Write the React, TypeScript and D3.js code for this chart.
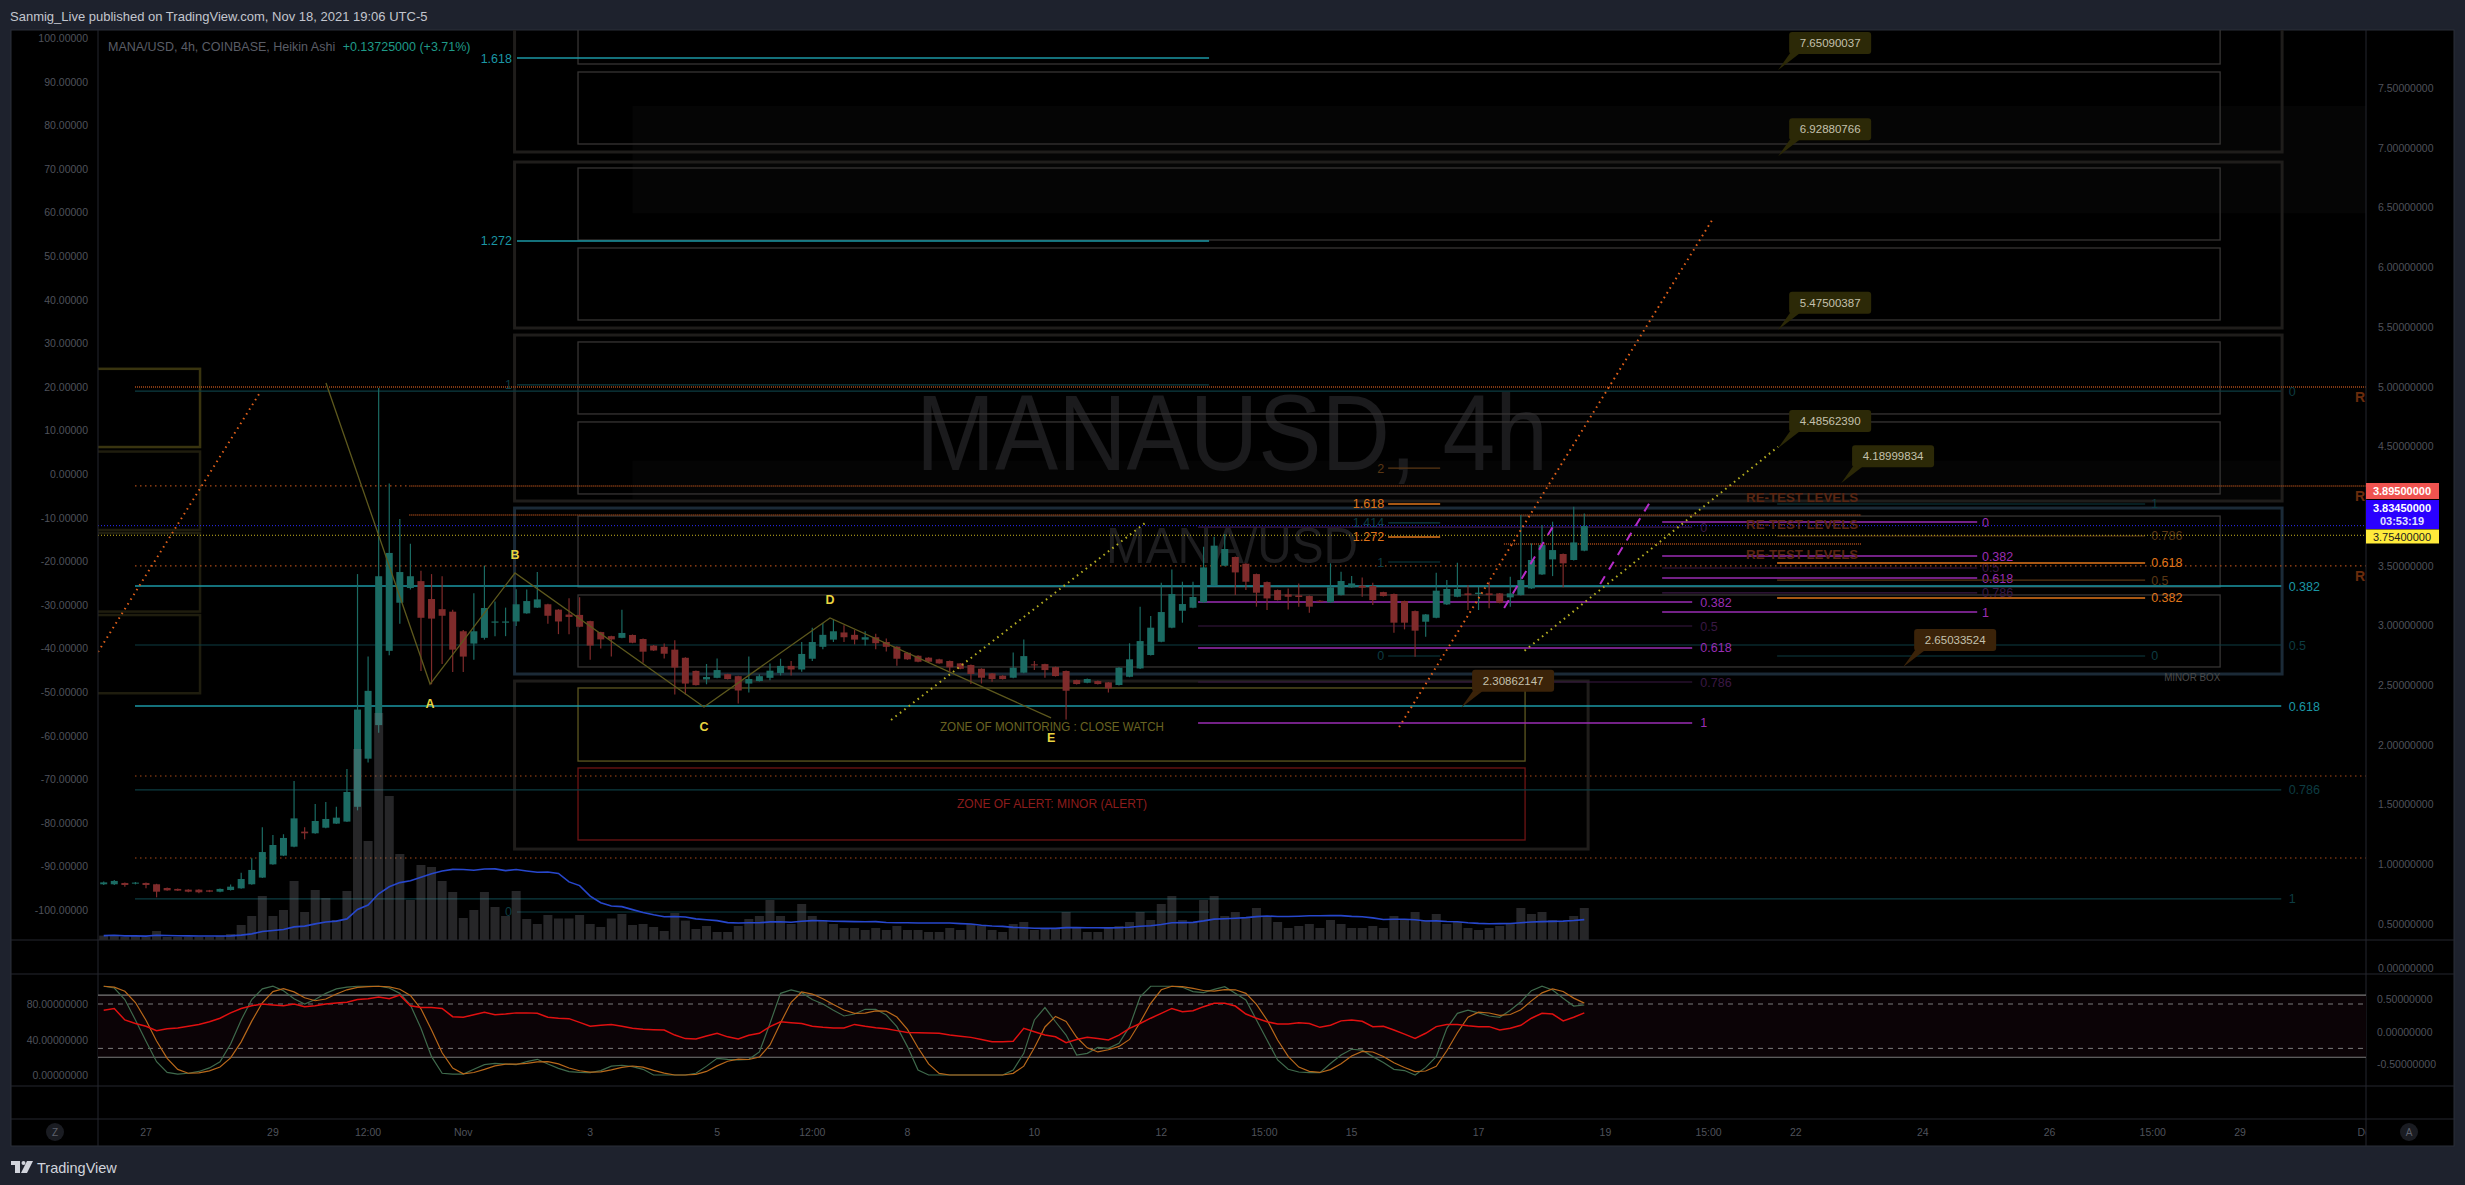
import React from "react";
import * as d3 from "d3";

const W = 2465;
const H = 1185;
const FONT = "'Liberation Sans', Arial, sans-serif";

// ---------------- data ----------------
const barStart = Date.UTC(2021, 9, 26, 8); // first 4h Heikin Ashi bar
const barHours = 4;

const haOpen = [
  0.831,0.831,0.842,0.836,0.842,0.831,0.800,0.792,0.786,0.786,
  0.780,0.769,0.783,0.797,0.831,0.887,0.998,1.071,1.146,1.272,
  1.258,1.305,1.339,1.356,1.480,1.883,2.164,2.786,3.189,3.312,
  3.370,3.220,3.135,3.114,2.950,2.847,2.895,3.022,3.022,3.032,
  3.100,3.148,3.176,3.131,3.090,3.087,3.035,2.943,2.909,2.895,
  2.919,2.885,2.830,2.820,2.796,2.728,2.618,2.547,2.560,2.591,
  2.574,2.512,2.533,2.560,2.600,2.660,2.630,2.720,2.820,2.880,
  2.940,2.920,2.880,2.900,2.860,2.821,2.770,2.745,2.729,2.715,
  2.701,2.681,2.667,2.636,2.597,2.578,2.561,2.603,2.673,2.675,
  2.650,2.617,2.541,2.519,2.533,2.522,2.500,2.569,2.639,2.751,
  2.862,2.980,3.122,3.147,3.192,3.337,3.499,3.572,3.516,3.429,
  3.362,3.295,3.259,3.251,3.245,3.206,3.192,3.253,3.318,3.332,
  3.329,3.278,3.262,3.203,3.119,3.030,3.063,3.175,3.239,3.267,
  3.262,3.267,3.267,3.234,3.253,3.309,3.426,3.552,3.597,3.547,
  3.625,
];
const haHigh = [
  0.855,0.867,0.846,0.850,0.846,0.835,0.804,0.796,0.790,0.790,
  0.784,0.796,0.830,0.928,1.048,1.308,1.244,1.250,1.696,1.308,
  1.504,1.520,1.481,1.797,3.429,2.738,4.988,4.188,3.890,3.682,
  3.456,3.429,3.411,3.130,2.960,3.268,3.500,3.200,3.148,3.302,
  3.299,3.446,3.180,3.135,3.227,3.234,3.039,2.947,2.913,3.131,
  2.923,2.889,2.834,2.847,2.875,2.732,2.622,2.676,2.721,2.595,
  2.578,2.738,2.590,2.680,2.720,2.700,2.860,2.980,3.020,3.050,
  3.000,2.960,2.950,2.930,2.890,2.825,2.774,2.749,2.733,2.719,
  2.705,2.685,2.671,2.640,2.601,2.582,2.773,2.882,2.701,2.679,
  2.654,2.621,2.545,2.554,2.537,2.526,2.649,2.849,3.156,3.077,
  3.357,3.468,3.365,3.365,3.658,3.742,3.764,3.576,3.520,3.433,
  3.366,3.299,3.309,3.351,3.249,3.210,3.519,3.449,3.412,3.401,
  3.357,3.282,3.266,3.207,3.123,3.095,3.440,3.379,3.524,3.337,
  3.323,3.365,3.271,3.407,3.923,3.686,3.840,3.868,3.601,3.993,
  3.937,
];
const haLow = [
  0.825,0.826,0.811,0.830,0.797,0.722,0.776,0.774,0.765,0.755,
  0.765,0.765,0.779,0.793,0.827,0.883,0.994,1.067,1.142,1.208,
  1.254,1.301,1.335,1.352,1.450,1.850,2.100,2.750,3.012,3.300,
  2.618,2.506,2.676,2.608,2.608,2.711,2.880,2.909,2.909,2.994,
  3.096,3.144,3.012,2.926,2.926,2.984,2.711,2.806,2.738,2.891,
  2.850,2.687,2.785,2.721,2.420,2.420,2.495,2.506,2.556,2.546,
  2.345,2.437,2.529,2.540,2.580,2.580,2.610,2.700,2.800,2.860,
  2.860,2.840,2.830,2.800,2.780,2.661,2.711,2.691,2.691,2.677,
  2.611,2.632,2.508,2.513,2.527,2.546,2.557,2.599,2.625,2.561,
  2.571,2.212,2.504,2.515,2.504,2.438,2.496,2.565,2.635,2.747,
  2.858,2.976,3.022,3.143,3.188,3.333,3.495,3.253,3.295,3.156,
  3.128,3.207,3.133,3.156,3.105,3.194,3.188,3.249,3.314,3.239,
  3.170,3.241,2.938,2.966,2.737,2.904,3.059,3.171,3.235,3.128,
  3.128,3.142,3.185,3.156,3.249,3.305,3.422,3.412,3.318,3.543,
  3.621,
];
const haClose = [
  0.847,0.859,0.825,0.845,0.825,0.769,0.780,0.778,0.769,0.764,
  0.769,0.792,0.811,0.875,0.951,1.101,1.160,1.219,1.383,1.258,
  1.361,1.378,1.389,1.604,2.294,2.451,3.411,3.606,3.446,3.411,
  3.063,3.056,3.080,2.796,2.738,2.950,3.145,3.032,3.032,3.176,
  3.203,3.217,3.080,3.032,3.070,2.988,2.830,2.882,2.882,2.936,
  2.854,2.779,2.789,2.762,2.646,2.512,2.499,2.567,2.625,2.550,
  2.454,2.550,2.574,2.620,2.660,2.630,2.760,2.860,2.920,2.950,
  2.900,2.880,2.900,2.850,2.820,2.720,2.715,2.695,2.695,2.681,
  2.648,2.636,2.592,2.561,2.550,2.550,2.645,2.742,2.664,2.625,
  2.575,2.452,2.508,2.550,2.508,2.472,2.645,2.715,2.868,2.980,
  3.111,3.262,3.178,3.237,3.485,3.667,3.639,3.443,3.365,3.273,
  3.225,3.211,3.239,3.237,3.156,3.198,3.318,3.371,3.351,3.315,
  3.211,3.245,3.022,3.022,2.955,3.091,3.290,3.304,3.304,3.253,
  3.273,3.253,3.189,3.267,3.379,3.547,3.672,3.630,3.519,3.694,
  3.831,
];
const volume = [
  2.2,2.5,1.5,2,1.5,4.5,1.5,1.5,1.5,1.5,
  1.5,2,3,7.5,12,22,12,15,29.5,14,
  25,21,10,24.5,95.5,49.5,113.5,72,43,20,
  37.5,36.5,29.5,24,11,15,24,16.5,12,24.5,
  10.5,8,12.5,10.75,10.75,12.5,8,6.5,10.75,13,
  7.5,8,6.5,4.5,13.5,9.7,5.5,7,4,4,
  7,10.5,12,20,12,8,18,12,10,8,
  6,6,5,6,5,7,5,5,4,4,
  6,5,8,7,5,4,8,9,5,6,
  6,14,6,4,4,6,7,9,14,10,
  18,22,10,9,20,22,12,14,11,16,
  12,9,6,7,8,6,10,8,6,6,
  7,6,12,10,14,10,13,8,9,6,
  5,6,7,8,16,13,14,10,9,12,
  16,
];
const stochK = [
  100,98,85,62,38,15,3,1,2,4,
  8,15,35,62,85,97,100,95,86,80,
  85,92,97,99,100,100,100,98,92,79,
  52.6,20.7,2,1,1,6.4,11.6,13,12.4,11.6,
  15,17.7,12.4,7.5,3.8,3,2.6,5,10,11,
  9.4,6.4,0,0,0,0,2,10,18.8,17.7,
  17,17.7,26,58,92,95.8,92.8,85,80,73,
  66.5,68.7,74,74,67.6,54.5,32,5.6,0,0,
  0,0,0,0,0,0,5.6,24.4,62,76,
  60,45,22.5,24.4,31,30,35.7,54.5,88,100,
  100,100,98.8,94,92.8,96.5,99.5,92,84.5,62,
  39.4,17,6.4,3.4,2.6,2.6,13,22.5,29,28,
  20.7,14,6.4,5,0,8.6,20.7,52.6,69.5,73,
  70,66.5,65,73,82.6,95,100,95.8,86.4,77.7,
  78.9,
];
const rsiLine = [
  73,75,62,58,55,50,52,53,55,57,
  60,64,70,75,78,80,79,78,80,77,
  78,80,81,82,85,86,88,86,90,78,
  76,76,75,65.7,65,68,70.6,68,68.7,70,
  70,69.5,65,64,63.5,59.3,55,56,57,55,
  52.6,51.5,51,50.7,45,41,40.6,44,47,43,
  40.6,44.7,47,54.5,60,59,58,55,53.7,53,
  53,57,55,53.3,52,50,48,47.7,47.3,47,
  45,43.6,42.4,40,37.6,37.6,38,52.6,48.8,45,
  43,36.4,40,42.4,41,39.4,45,52.6,58,64,
  69.5,75,71.4,72.5,77,80.8,80.8,77.7,68.7,64,
  60,57.5,57.5,59,58,53.7,56,61,62,60.5,
  54.5,55,50.7,46,41.3,47,54.5,57,57,55.6,
  54.5,54.5,50.7,52.6,56,64,69.5,68.7,61,65,
  70,
];

const priceTicks = [7.5, 7, 6.5, 6, 5.5, 5, 4.5, 3.5, 3, 2.5, 2, 1.5, 1, 0.5];
const leftTicks = [100, 90, 80, 70, 60, 50, 40, 30, 20, 10, 0, -10, -20, -30, -40, -50, -60, -70, -80, -90, -100];
const oscLeftTicks = [80, 40, 0];
const oscRightTicks = [0.5, 0, -0.5];
const timeTicks: [string, string][] = [
  ["2021-10-27T00:00:00Z", "27"], ["2021-10-29T00:00:00Z", "29"], ["2021-10-30T12:00:00Z", "12:00"],
  ["2021-11-01T00:00:00Z", "Nov"], ["2021-11-03T00:00:00Z", "3"], ["2021-11-05T00:00:00Z", "5"],
  ["2021-11-06T12:00:00Z", "12:00"], ["2021-11-08T00:00:00Z", "8"], ["2021-11-10T00:00:00Z", "10"],
  ["2021-11-12T00:00:00Z", "12"], ["2021-11-13T15:00:00Z", "15:00"], ["2021-11-15T00:00:00Z", "15"],
  ["2021-11-17T00:00:00Z", "17"], ["2021-11-19T00:00:00Z", "19"], ["2021-11-20T15:00:00Z", "15:00"],
  ["2021-11-22T00:00:00Z", "22"], ["2021-11-24T00:00:00Z", "24"], ["2021-11-26T00:00:00Z", "26"],
  ["2021-11-27T15:00:00Z", "15:00"], ["2021-11-29T00:00:00Z", "29"], ["2021-12-01T00:00:00Z", "Dec"],
];

// drawings: [startBar, endBar, topPrice, bottomPrice]
const gridBoxes = [
  [44.85, 200.12, 8.07, 7.701], [44.85, 200.12, 7.634, 7.031], [44.85, 200.12, 6.830, 6.227],
  [44.85, 200.12, 6.160, 5.557], [44.85, 200.12, 5.373, 4.770], [44.85, 200.12, 4.703, 4.100],
  [44.85, 200.12, 3.915, 3.321], [44.85, 200.12, 3.254, 2.651],
];
const outerBoxes = [
  [38.85, 205.98, 8.2, 6.964], [38.85, 205.98, 6.880, 5.490], [38.85, 205.98, 5.431, 4.041],
  [38.85, 205.98, 3.982, 2.592], [38.85, 140.36, 2.533, 1.126],
];
const monitorBox = [44.85, 134.4, 2.475, 1.863];
const alertBox = [44.85, 134.4, 1.805, 1.202];
const leftBoxes = [
  [-3, 9.11, 5.148, 4.493], [-3, 9.11, 4.455, 3.798], [-3, 9.11, 3.773, 3.115], [-3, 9.11, 3.086, 2.431],
];
// [price, startBar, endBar, kind]
const dottedLevels: [number, number, number, string][] = [
  [4.996, 2.96, 215, "dense"], [4.167, 2.96, 28.9, "sparse"], [4.167, 28.9, 215, "dense"],
  [3.924, 28.9, 166.2, "dense"], [3.681, 132.4, 166.2, "dense"], [3.497, 2.96, 215, "sparse"],
  [1.738, 2.96, 215, "sparse"], [1.051, 2.96, 215, "sparse"],
];
const rLabels = [4.996, 4.167, 3.497];
// fib groups: levels [price, label, tone]
const fibGroups = [
  { b0: 2.96, b1: 205.9, lb: 206.6, anchor: "start", levels: [[4.962, "0", "t"], [3.329, "0.382", "c"], [2.835, "0.5", "t"], [2.324, "0.618", "c"], [1.621, "0.786", "t"], [0.708, "1", "t"]] },
  { b0: 39.08, b1: 104.52, lb: 38.6, anchor: "end", levels: [[7.751, "1.618", "c"], [6.219, "1.272", "c"], [5.013, "1", "t"], [0.599, "0", "t"]] },
  { b0: 103.48, b1: 150.2, lb: 150.97, anchor: "start", levels: [[3.823, "0", "pd"], [3.195, "0.382", "p"], [2.994, "0.5", "pd"], [2.810, "0.618", "p"], [2.525, "0.786", "pd"], [2.182, "1", "p"]] },
  { b0: 147.36, b1: 177.15, lb: 177.6, anchor: "start", levels: [[3.865, "0", "p"], [3.580, "0.382", "p"], [3.480, "0.5", "pd"], [3.396, "0.618", "p"], [3.271, "0.786", "pd"], [3.111, "1", "p"]] },
  { b0: 158.23, b1: 193.03, lb: 193.6, anchor: "start", levels: [[4.016, "1", "t"], [3.748, "0.786", "od"], [3.522, "0.618", "o"], [3.379, "0.5", "od"], [3.229, "0.382", "o"], [2.743, "0", "t"]] },
  { b0: 121.45, b1: 126.37, lb: 121.07, anchor: "end", levels: [[4.317, "2", "od"], [4.016, "1.618", "o"], [3.857, "1.414", "t"], [3.740, "1.272", "o"], [3.530, "1", "t"], [2.743, "0", "t"]] },
];
// trend lines [bar1, price1, bar2, price2, kind]
const trendLines: [number, number, number, number, string][] = [
  [-0.54, 2.776, 14.87, 4.962, "orange"],
  [122.49, 2.148, 152.05, 6.389, "orange"],
  [74.45, 2.207, 98.47, 3.857, "yellow"],
  [134.35, 2.787, 158.33, 4.496, "yellow"],
  [132.42, 3.145, 137.24, 3.857, "magenta"],
  [141.5, 3.346, 146.22, 4.033, "magenta"],
];
const zigzag: [number, number][] = [[21.02, 5.029], [30.86, 2.508], [38.89, 3.438], [56.76, 2.316], [68.68, 3.061], [89.58, 2.224]];
const zigLabels: [string, number, number][] = [["A", 1, 1], ["B", 2, -1], ["C", 3, 1], ["D", 4, -1], ["E", 5, 1]];
const callouts = [
  { b: 158.33, p: 7.6509, text: "7.65090037", kind: "olive" },
  { b: 158.33, p: 6.9288, text: "6.92880766", kind: "olive" },
  { b: 158.33, p: 5.475, text: "5.47500387", kind: "olive" },
  { b: 158.33, p: 4.4856, text: "4.48562390", kind: "olive" },
  { b: 164.28, p: 4.19, text: "4.18999834", kind: "olive" },
  { b: 170.15, p: 2.6503, text: "2.65033524", kind: "brown" },
  { b: 128.35, p: 2.3086, text: "2.30862147", kind: "brown" },
];
const retestLevels = [4.075, 3.848, 3.597];
const lastPrices = { high: 3.895, last: 3.8345, mid: 3.754 };

const toneColor: Record<string, string> = {
  c: "#1b97a5", t: "#0d3c42", p: "#9a2db3", pd: "#3a1844", o: "#e0761a", od: "#5a3714",
};

function sma(arr: number[], n: number) {
  return arr.map((_, i) => {
    const s = arr.slice(Math.max(0, i - n + 1), i + 1);
    return d3.mean(s) as number;
  });
}

export default function App() {
  const x = d3.scaleUtc()
    .domain([new Date(Date.UTC(2021, 9, 27)), new Date(Date.UTC(2021, 10, 29))])
    .range([146, 2240]);
  const bx = (b: number) => x(new Date(barStart + b * barHours * 3600000));
  const y = d3.scaleLinear().domain([0.5, 7.5]).range([923.8, 88]);
  const yLeft = d3.scaleLinear().domain([-100, 100]).range([910, 38]);
  const yVol = d3.scaleLinear().domain([0, 120]).range([940, 700]);
  const yOsc = d3.scaleLinear().domain([0, 100]).range([1075, 986.25]);
  const yOscR = d3.scaleLinear().domain([-0.5, 0.5]).range([1064, 999]);

  const volMA = sma(volume, 20);
  const stochD = sma(stochK, 3);
  const idx = haOpen.map((_, i) => i);

  const volLine = d3.line<number>().x((i) => bx(i)).y((i) => yVol(volMA[i]));
  const kLine = d3.line<number>().x((i) => bx(i)).y((i) => yOsc(stochK[i]));
  const dLine = d3.line<number>().x((i) => bx(i)).y((i) => yOsc(stochD[i]));
  const rLine = d3.line<number>().x((i) => bx(i)).y((i) => yOsc(rsiLine[i]));
  const zigPath = d3.line<[number, number]>().x((d) => bx(d[0])).y((d) => y(d[1]))(zigzag) as string;

  const axisText = "#4f525b";
  const sep = "#24272f";

  const rectOf = (bb: number[]) => ({
    x: bx(bb[0]), y: y(bb[2]), width: bx(bb[1]) - bx(bb[0]), height: y(bb[3]) - y(bb[2]),
  });

  return (
    <div style={{ position: "absolute", left: 0, top: 0, width: W, height: H }}>
      <svg width={W} height={H} style={{ display: "block", fontFamily: FONT }}>
        <defs>
          <clipPath id="main"><rect x={98} y={30} width={2268} height={910} /></clipPath>
          <clipPath id="osc"><rect x={98} y={974} width={2268} height={112} /></clipPath>
          <clipPath id="taxis"><rect x={98} y={1119} width={2268} height={27} /></clipPath>
        </defs>
        <rect x={0} y={0} width={W} height={H} fill="#1e222d" />
        <text x={10} y={21} fontSize={13} fill="#c3c6ce">Sanmig_Live published on TradingView.com, Nov 18, 2021 19:06 UTC-5</text>
        <rect x={11} y={30} width={2443} height={1116} fill="#000" stroke="#2a2e39" strokeWidth={1} />

        {/* main pane */}
        <g clipPath="url(#main)">
          <rect x={bx(50)} y={y(7.35)} width={bx(215) - bx(50)} height={y(6.45) - y(7.35)} fill="rgba(255,255,255,0.018)" />
          <rect x={bx(50)} y={y(4.38)} width={bx(205.98) - bx(50)} height={y(4.05) - y(4.38)} fill="rgba(255,255,255,0.015)" />
          <text x={916} y={470} fontSize={107} fill="#1b1b1d" textLength={632} lengthAdjust="spacingAndGlyphs">MANAUSD, 4h</text>
          <text x={1106} y={563} fontSize={50} fill="#1d1d1f" textLength={252} lengthAdjust="spacingAndGlyphs">MANA/USD</text>

          {outerBoxes.map((bb, i) => (
            <rect key={"ob" + i} {...rectOf(bb)} fill="none" stroke={i === 3 ? "#1b2a37" : "#1f1d1b"} strokeWidth={3} />
          ))}
          {gridBoxes.map((bb, i) => (
            <rect key={"gb" + i} {...rectOf(bb)} fill="none" stroke="#363433" strokeWidth={1.3} />
          ))}
          <rect {...rectOf(monitorBox)} fill="none" stroke="#5c5620" strokeWidth={1.3} />
          <rect {...rectOf(alertBox)} fill="none" stroke="#6e1414" strokeWidth={1.3} />
          {leftBoxes.map((bb, i) => (
            <rect key={"lb" + i} {...rectOf(bb)} fill="none" stroke={i === 0 ? "#39340f" : "#1f1d0e"} strokeWidth={2.5} />
          ))}

          {dottedLevels.map(([p, b0, b1, kind], i) => (
            <line key={"dl" + i} x1={bx(b0)} x2={bx(b1)} y1={y(p)} y2={y(p)}
              stroke="#a94a18" strokeWidth={kind === "dense" ? 1.6 : 1.2}
              strokeDasharray={kind === "dense" ? "1,1" : "1.5,3.5"} />
          ))}
          {rLabels.map((p, i) => (
            <text key={"r" + i} x={2355} y={y(p) + 15} fontSize={14} fontWeight="bold" fill="#6b2c0c">R</text>
          ))}

          {fibGroups.map((g, gi) => (
            <g key={"fg" + gi}>
              {g.levels.map(([p, lab, tone], li) => (
                <g key={li}>
                  <line x1={bx(g.b0)} x2={bx(g.b1)} y1={y(p as number)} y2={y(p as number)}
                    stroke={toneColor[tone as string]} strokeWidth={tone === "c" || tone === "p" || tone === "o" ? 1.4 : 1.2} />
                  <text x={bx(g.lb)} y={y(p as number) + 4.5} fontSize={12.5} textAnchor={g.anchor as any}
                    fill={toneColor[tone as string]}>{lab}</text>
                </g>
              ))}
            </g>
          ))}

          <line x1={98} x2={2366} y1={y(lastPrices.last)} y2={y(lastPrices.last)} stroke="#2b2bff" strokeWidth={1} strokeDasharray="1,2" />
          <line x1={98} x2={2366} y1={y(lastPrices.mid)} y2={y(lastPrices.mid)} stroke="#c9b51e" strokeWidth={1} strokeDasharray="1,2" />

          {/* candles */}
          {idx.map((i) => {
            const o = haOpen[i], c = haClose[i], hi = haHigh[i], lo = haLow[i];
            const up = c >= o;
            const col = up ? "#1b6b63" : "#7f2b2b";
            const cx = bx(i);
            return (
              <g key={"c" + i}>
                <line x1={cx} x2={cx} y1={y(hi)} y2={y(lo)} stroke={col} strokeWidth={1.2} />
                <rect x={cx - 3.5} y={y(Math.max(o, c))} width={7} height={Math.max(1, y(Math.min(o, c)) - y(Math.max(o, c)))} fill={col} />
              </g>
            );
          })}
          {idx.map((i) => (
            <rect key={"v" + i} x={bx(i) - 4.5} y={yVol(volume[i])} width={9} height={940 - yVol(volume[i])} fill="rgba(125,125,132,0.3)" />
          ))}
          <path d={volLine(idx) as string} fill="none" stroke="#2747cc" strokeWidth={1.6} />

          {trendLines.map(([b1, p1, b2, p2, kind], i) => (
            <line key={"tl" + i} x1={bx(b1)} y1={y(p1)} x2={bx(b2)} y2={y(p2)}
              stroke={kind === "orange" ? "#e0601a" : kind === "yellow" ? "#b5ad22" : "#b52cc8"}
              strokeWidth={2}
              strokeDasharray={kind === "magenta" ? "9,8" : "1.6,4"} />
          ))}

          <path d={zigPath} fill="none" stroke="#5d581d" strokeWidth={1.3} />
          {zigLabels.map(([t, k, dir]) => (
            <text key={t} x={bx(zigzag[k][0])} y={y(zigzag[k][1]) + (dir > 0 ? 24 : -14)} fontSize={12.5} fontWeight="bold"
              fill="#e8d440" textAnchor="middle">{t}</text>
          ))}

          {retestLevels.map((p, i) => (
            <text key={"rt" + i} x={bx(155.3)} y={y(p) + 5} fontSize={12.5} fontWeight="bold" fill="#5a2612" textLength={112} lengthAdjust="spacingAndGlyphs">RE-TEST LEVELS</text>
          ))}
          <text x={bx(89.67)} y={y(2.157) + 5} fontSize={13.5} fill="#6a6422" textAnchor="middle" textLength={224} lengthAdjust="spacingAndGlyphs">ZONE OF MONITORING : CLOSE WATCH</text>
          <text x={bx(89.67)} y={y(1.512) + 5} fontSize={13.5} fill="#8c1c1c" textAnchor="middle" textLength={190} lengthAdjust="spacingAndGlyphs">ZONE OF ALERT: MINOR (ALERT)</text>
          <text x={bx(194.83)} y={y(2.567) + 4} fontSize={11} fill="#4a4a4a" textLength={56} lengthAdjust="spacingAndGlyphs">MINOR BOX</text>

          {callouts.map((c, i) => {
            const ax = bx(c.b), ay = y(c.p);
            const fill = c.kind === "olive" ? "#2c2907" : "#3b2309";
            return (
              <g key={"co" + i}>
                <polygon points={`${ax},${ay} ${ax + 12},${ay - 17} ${ax + 22},${ay - 17}`} fill={fill} />
                <rect x={ax + 11} y={ay - 38} width={82} height={22} rx={3} fill={fill} />
                <text x={ax + 52} y={ay - 23} fontSize={11.5} textAnchor="middle" fill="#c4c1ad">{c.text}</text>
              </g>
            );
          })}
        </g>

        {/* symbol legend */}
        <text x={108} y={51} fontSize={12.5} fill="#5a5d66">MANA/USD, 4h, COINBASE, Heikin Ashi <tspan dx={4} fill="#1f9a88">+0.13725000 (+3.71%)</tspan></text>

        {/* pane separators */}
        {[940, 974, 1086, 1119].map((v) => (
          <line key={"s" + v} x1={11} x2={2454} y1={v} y2={v} stroke={sep} strokeWidth={1} />
        ))}
        <line x1={98} x2={98} y1={30} y2={1146} stroke={sep} />
        <line x1={2366} x2={2366} y1={30} y2={1146} stroke={sep} />

        {/* oscillator */}
        <g clipPath="url(#osc)">
          <rect x={98} y={yOsc(90)} width={2268} height={yOsc(20) - yOsc(90)} fill="#0b0306" />
          <line x1={98} x2={2366} y1={yOsc(90)} y2={yOsc(90)} stroke="#7a7a7a" strokeWidth={1.2} />
          <line x1={98} x2={2366} y1={yOsc(20)} y2={yOsc(20)} stroke="#7a7a7a" strokeWidth={1.2} />
          <line x1={98} x2={2366} y1={yOsc(80)} y2={yOsc(80)} stroke="#7a7a7a" strokeWidth={1} strokeDasharray="5,5" />
          <line x1={98} x2={2366} y1={yOsc(30)} y2={yOsc(30)} stroke="#7a7a7a" strokeWidth={1} strokeDasharray="5,5" />
          <path d={kLine(idx) as string} fill="none" stroke="#3f6a4c" strokeWidth={1.2} />
          <path d={dLine(idx) as string} fill="none" stroke="#b8681a" strokeWidth={1.2} />
          <path d={rLine(idx) as string} fill="none" stroke="#e01010" strokeWidth={1.5} />
        </g>

        {/* left axis */}
        {leftTicks.map((v) => (
          <text key={"lt" + v} x={88} y={yLeft(v) + 4} fontSize={10.5} textAnchor="end" fill={axisText}>{v.toFixed(5)}</text>
        ))}
        {oscLeftTicks.map((v) => (
          <text key={"olt" + v} x={88} y={yOsc(v) + 4} fontSize={10.5} textAnchor="end" fill={axisText}>{v.toFixed(8)}</text>
        ))}
        {/* right axis */}
        {priceTicks.map((v) => (
          <text key={"rt" + v} x={2378} y={y(v) + 4} fontSize={10.5} fill={axisText}>{v.toFixed(8)}</text>
        ))}
        <text x={2378} y={972} fontSize={10.5} fill={axisText}>0.00000000</text>
        {oscRightTicks.map((v) => (
          <text key={"ort" + v} x={2377} y={yOscR(v) + 4} fontSize={10.5} fill={axisText}>{v.toFixed(8)}</text>
        ))}
        <rect x={2366} y={483} width={73} height={16} fill="#ef5350" />
        <text x={2402} y={495} fontSize={11} fontWeight="bold" textAnchor="middle" fill="#fff">{lastPrices.high.toFixed(8)}</text>
        <rect x={2366} y={500} width={73} height={29} fill="#2a00ff" />
        <text x={2402} y={512} fontSize={11} fontWeight="bold" textAnchor="middle" fill="#fff">{lastPrices.last.toFixed(8)}</text>
        <text x={2402} y={525} fontSize={11} fontWeight="bold" textAnchor="middle" fill="#e0e0ff">03:53:19</text>
        <rect x={2366} y={529.5} width={73} height={14} fill="#ffeb3b" />
        <text x={2402} y={540.5} fontSize={11} textAnchor="middle" fill="#222">{lastPrices.mid.toFixed(8)}</text>

        {/* time axis */}
        <g clipPath="url(#taxis)">
          {timeTicks.map(([t, lab], i) => (
            <text key={"tt" + i} x={x(new Date(t))} y={1136} fontSize={10.5} textAnchor="middle" fill={axisText}>{lab}</text>
          ))}
        </g>
        <circle cx={55} cy={1132} r={9} fill="#1a1c22" />
        <text x={55} y={1136} fontSize={10} textAnchor="middle" fill="#5d606b">Z</text>
        <circle cx={2409} cy={1132} r={9} fill="#1a1c22" />
        <text x={2409} y={1136} fontSize={10} textAnchor="middle" fill="#5d606b">A</text>

        {/* footer logo */}
        <g fill="#d1d4dc">
          <rect x={11} y={1161} width={9} height={4} />
          <rect x={15} y={1161} width={5} height={12} />
          <circle cx={23.5} cy={1163} r={2} />
          <polygon points="27,1161 33,1161 27,1173 21,1173" />
        </g>
        <text x={37} y={1173} fontSize={14.5} fill="#d1d4dc">TradingView</text>
      </svg>
    </div>
  );
}
